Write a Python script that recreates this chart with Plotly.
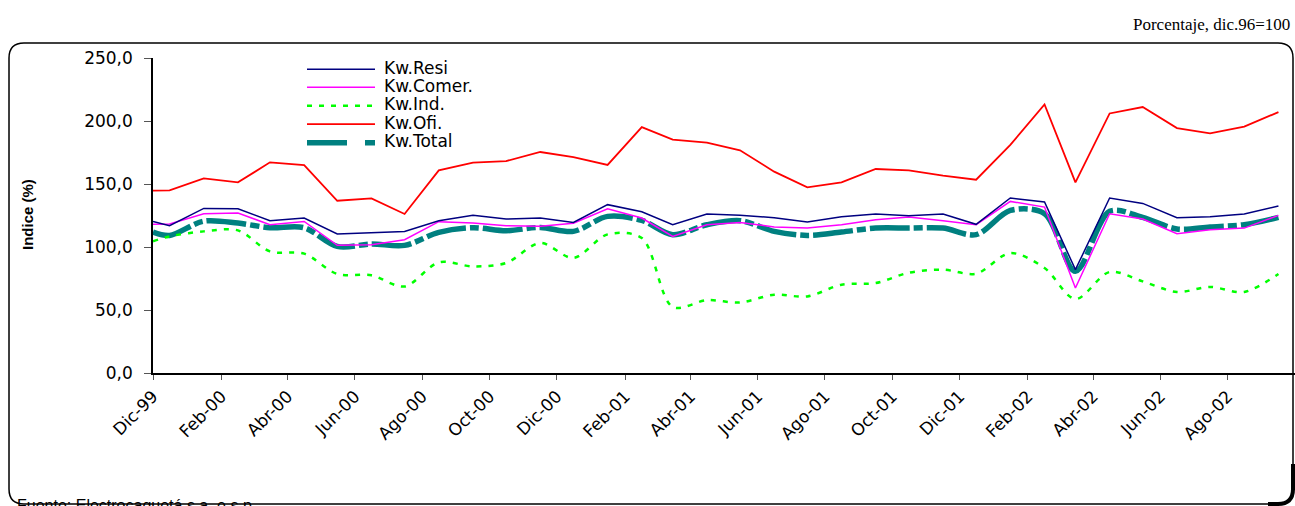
import plotly.graph_objects as go

# ---------------- data ----------------
fechas = [
    "1999-12-01", "1999-12-16",
    "2000-01-16", "2000-02-16", "2000-03-16", "2000-04-16", "2000-05-16", "2000-06-16",
    "2000-07-16", "2000-08-16", "2000-09-16", "2000-10-16", "2000-11-16", "2000-12-16",
    "2001-01-16", "2001-02-16", "2001-03-16", "2001-04-16", "2001-05-16", "2001-06-16",
    "2001-07-16", "2001-08-16", "2001-09-16", "2001-10-16", "2001-11-16", "2001-12-16",
    "2002-01-16", "2002-02-16", "2002-03-16", "2002-04-16", "2002-05-16", "2002-06-16",
    "2002-07-16", "2002-08-16", "2002-09-16",
]

kw_resi = [120.3, 116.9, 130.6, 130.4, 120.9, 123.0, 110.3, 111.6, 112.4, 120.9, 125.1, 122.2,
           123.0, 119.5, 133.6, 128.0, 117.7, 126.2, 125.1, 123.3, 119.8, 124.0, 126.2, 124.8,
           126.2, 118.0, 138.9, 135.7, 82.0, 138.9, 134.6, 123.3, 124.0, 126.2, 132.5]
kw_comer = [118.0, 118.2, 126.4, 127.0, 117.7, 120.3, 101.3, 101.8, 105.8, 120.1, 119.0, 116.9,
            116.4, 118.8, 130.4, 123.0, 108.4, 117.7, 119.5, 115.9, 115.0, 117.7, 121.7, 123.8,
            120.9, 117.7, 136.2, 131.7, 67.5, 126.4, 122.2, 110.6, 113.7, 115.0, 125.1]
kw_ind = [104.5, 108.4, 112.4, 113.2, 96.5, 94.7, 78.6, 77.5, 68.7, 87.8, 84.6, 87.3,
          103.2, 91.3, 110.0, 107.1, 52.4, 57.8, 56.0, 62.1, 60.8, 70.1, 71.4, 79.6,
          82.0, 78.8, 95.2, 83.3, 58.7, 80.2, 72.7, 64.3, 68.3, 64.3, 78.6]
kw_ofi = [144.7, 145.0, 154.5, 151.3, 167.2, 165.0, 136.7, 138.6, 126.2, 160.8, 166.9, 168.2,
          175.4, 171.4, 165.1, 195.2, 185.2, 182.8, 176.7, 159.8, 147.3, 151.3, 161.9, 160.8,
          156.6, 153.4, 181.0, 213.2, 151.3, 206.0, 211.1, 194.4, 190.2, 195.5, 207.1]
kw_total = [111.9, 109.2, 120.5, 119.0, 115.3, 115.3, 100.5, 102.4, 101.3, 111.6, 115.3, 112.9,
            115.5, 112.4, 124.3, 121.1, 109.8, 117.7, 120.9, 112.4, 109.2, 111.9, 115.0, 115.0,
            115.0, 109.8, 129.0, 126.4, 80.7, 128.3, 123.5, 114.3, 115.9, 117.7, 123.5]

tick_fechas = ["1999-12-01", "2000-02-01", "2000-04-01", "2000-06-01", "2000-08-01", "2000-10-01",
               "2000-12-01", "2001-02-01", "2001-04-01", "2001-06-01", "2001-08-01", "2001-10-01",
               "2001-12-01", "2002-02-01", "2002-04-01", "2002-06-01", "2002-08-01"]
tick_textos = ["Dic-99", "Feb-00", "Abr-00", "Jun-00", "Ago-00", "Oct-00", "Dic-00", "Feb-01",
               "Abr-01", "Jun-01", "Ago-01", "Oct-01", "Dic-01", "Feb-02", "Abr-02", "Jun-02", "Ago-02"]

# name, values, line style, legend sample dash, shape
series = [
    ("Kw.Resi", kw_resi, dict(color="#000080", width=1.5), None, "linear"),
    ("Kw.Comer.", kw_comer, dict(color="#FF00FF", width=1.5), None, "linear"),
    ("Kw.Ind.", kw_ind, dict(color="#00FF00", width=2.5, dash="5px,7px"), "5px,7px", "spline"),
    ("Kw.Ofi.", kw_ofi, dict(color="#FF0000", width=1.8), None, "linear"),
    ("Kw.Total", kw_total, dict(color="#008080", width=5.5, dash="40px,4px,9px,4px"),
     "40px,18px,10px,18px", "spline"),
]

# ---------------- layout helpers (pixel -> paper) ----------------
W, H = 1295, 506
PL, PR, PT, PB = 153, 1295, 58, 373


def px_x(px):
    return (px - PL) / (PR - PL)


def px_y(py):
    return (PB - py) / (PB - PT)


fig = go.Figure()

# Total first so the thin lines sit on top like the original
for name, vals, line, _, shape in [series[4], series[2], series[3], series[1], series[0]]:
    fig.add_trace(go.Scatter(x=fechas, y=vals, mode="lines", name=name,
                             line=dict(shape=shape, smoothing=0.9, **line), showlegend=False))

# ---------------- frame ----------------
x0, x1, y0, y1, r = 9, 1293, 43, 504, 15
pts = [("M", x0 + r, y0), ("L", x1 - r, y0), ("Q", x1, y0, x1, y0 + r), ("L", x1, y1 - r),
       ("Q", x1, y1, x1 - r, y1), ("L", x0 + r, y1), ("Q", x0, y1, x0, y1 - r), ("L", x0, y0 + r),
       ("Q", x0, y0, x0 + r, y0)]
path = ""
for p in pts:
    coords = p[1:]
    segs = [f"{px_x(coords[i]):.5f},{px_y(coords[i + 1]):.5f}" for i in range(0, len(coords), 2)]
    path += p[0] + " " + " ".join(segs) + " "
path += "Z"

shapes = [dict(type="path", path=path, xref="paper", yref="paper",
               line=dict(color="black", width=1.5), layer="above")]

corner = (f"M {px_x(x1 - 25):.5f},{px_y(y1):.5f} L {px_x(x1 - r):.5f},{px_y(y1):.5f} "
          f"Q {px_x(x1):.5f},{px_y(y1):.5f} {px_x(x1):.5f},{px_y(y1 - r):.5f} "
          f"L {px_x(x1):.5f},{px_y(y1 - 40):.5f}")
shapes.append(dict(type="path", path=corner, xref="paper", yref="paper",
                   line=dict(color="black", width=4), layer="above"))

# ---------------- manual legend ----------------
annotations = []
leg_y = [67.7, 85.7, 104.2, 122.7, 141.3]
for (name, vals, line, legdash, shape), ly in zip(series, leg_y):
    sample = dict(line)
    if legdash:
        sample["dash"] = legdash
    shapes.append(dict(type="line", xref="paper", yref="paper",
                       x0=px_x(307), x1=px_x(375), y0=px_y(ly + 1.5), y1=px_y(ly + 1.5),
                       line=sample))
    annotations.append(dict(text=name, x=px_x(382), y=px_y(ly), xref="paper", yref="paper",
                            xanchor="left", yanchor="middle", showarrow=False,
                            font=dict(family="DejaVu Sans", size=17, color="black")))

annotations += [
    dict(text="Porcentaje, dic.96=100", x=px_x(1292), y=px_y(25), xref="paper", yref="paper",
         xanchor="right", yanchor="middle", showarrow=False,
         font=dict(family="Liberation Serif", size=17, color="black")),
    dict(text="Fuente: Electrocaquetá s.a. e.s.p.", x=px_x(15), y=px_y(505), xref="paper",
         yref="paper", xanchor="left", yanchor="middle", showarrow=False,
         font=dict(family="Liberation Sans", size=16, color="black")),
    dict(text="<b>Indice (%)</b>", x=px_x(27), y=px_y(215), xref="paper", yref="paper",
         xanchor="center", yanchor="middle", textangle=-90, showarrow=False,
         font=dict(family="Liberation Sans", size=15, color="black")),
]

fig.update_layout(
    width=W, height=H,
    margin=dict(l=PL, r=W - PR, t=PT, b=H - PB),
    paper_bgcolor="white", plot_bgcolor="white",
    separators=",.",
    font=dict(family="DejaVu Sans", color="black"),
    shapes=shapes, annotations=annotations,
    xaxis=dict(type="date", range=["1999-12-01", "2002-10-01"], tickvals=tick_fechas,
               ticktext=tick_textos, tickangle=-45, tickfont=dict(size=17),
               showline=True, linecolor="black", linewidth=1.5, ticks="outside",
               ticklen=5, tickcolor="#555555", showgrid=False, zeroline=False),
    yaxis=dict(range=[0, 250], tickvals=[0, 50, 100, 150, 200, 250], tickformat=".1f",
               tickfont=dict(size=17), showline=True, linecolor="black", linewidth=1.5,
               ticks="outside", ticklen=7, tickcolor="#555555", showgrid=False,
               zeroline=False, ticklabelstandoff=8),
)

# put the figure flush with the page corner (no body margin, no scrollbars)
fig.write_html("out.html", config={"displayModeBar": False},
               post_script="document.body.style.margin='0';document.body.style.overflow='hidden';")
